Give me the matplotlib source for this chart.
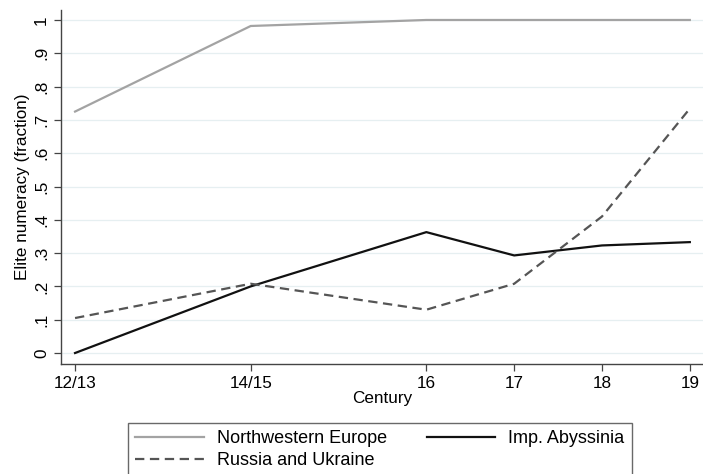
import matplotlib
matplotlib.use("Agg")
import matplotlib.pyplot as plt

plt.rcParams['font.family'] = ['Liberation Sans', 'DejaVu Sans']

# Century positions (midpoints) and their labels
centuries = [12.5, 14.5, 16.5, 17.5, 18.5, 19.5]
century_labels = ["12/13", "14/15", "16", "17", "18", "19"]

# Elite numeracy shares by region
nw_europe = [0.725, 0.982, 1.0, 1.0, 1.0, 1.0]
russia_ukraine = [0.105, 0.208, 0.130, 0.208, 0.410, 0.734]
abyssinia = [0.0, 0.200, 0.363, 0.293, 0.323, 0.333]

yticks = [0, 0.1, 0.2, 0.3, 0.4, 0.5, 0.6, 0.7, 0.8, 0.9, 1.0]
ytick_labels = ["0", ".1", ".2", ".3", ".4", ".5", ".6", ".7", ".8", ".9", "1"]

W, H = 703, 474
fig = plt.figure(figsize=(W / 100, H / 100), dpi=100)
ax = fig.add_axes([61 / W, 1 - 364 / H, (703 - 61) / W, (364 - 10) / H])

l1, = ax.plot(centuries, nw_europe, color="#a3a3a3", lw=1.6,
              label="Northwestern Europe")
l2, = ax.plot(centuries, abyssinia, color="#111111", lw=1.6,
              label="Imp. Abyssinia")
l3, = ax.plot(centuries, russia_ukraine, color="#555555", lw=1.6,
              dashes=(4.2, 2.5), label="Russia and Ukraine")

FS = 12.3
ax.set_xlim(12.34, 19.65)
ax.set_ylim(-0.033, 1.03)
ax.set_xticks(centuries)
ax.set_xticklabels(century_labels, fontsize=FS)
ax.set_yticks(yticks)
ax.set_yticklabels(ytick_labels, fontsize=FS, rotation=90, va="center")
ax.grid(axis="y", color="#e6eff1", lw=0.9)
ax.set_axisbelow(True)
for s in ("top", "right"):
    ax.spines[s].set_visible(False)
for s in ("left", "bottom"):
    ax.spines[s].set_color("#444444")
    ax.spines[s].set_linewidth(1.0)
ax.tick_params(axis="both", direction="out", length=5, width=0.9,
               color="#444444", pad=3.5)
ax.set_xlabel("Century", fontsize=FS, labelpad=0)
ax.set_ylabel("Elite numeracy (fraction)", fontsize=FS, labelpad=3)

# column-major fill: first row NW Europe / Abyssinia, second row Russia
leg = fig.legend(handles=[l1, l3, l2],
                 labels=["Northwestern Europe", "Russia and Ukraine", "Imp. Abyssinia"],
                 loc="upper left", bbox_to_anchor=(128 / W, 1 - 423 / H),
                 ncol=2, fontsize=13, frameon=True, fancybox=False,
                 handlelength=3.8, handletextpad=0.72, columnspacing=2.2,
                 borderpad=0.4, labelspacing=0.28, borderaxespad=0)
leg.get_frame().set_edgecolor("#444444")
leg.get_frame().set_linewidth(1.0)

fig.savefig("out.png", dpi=100)
